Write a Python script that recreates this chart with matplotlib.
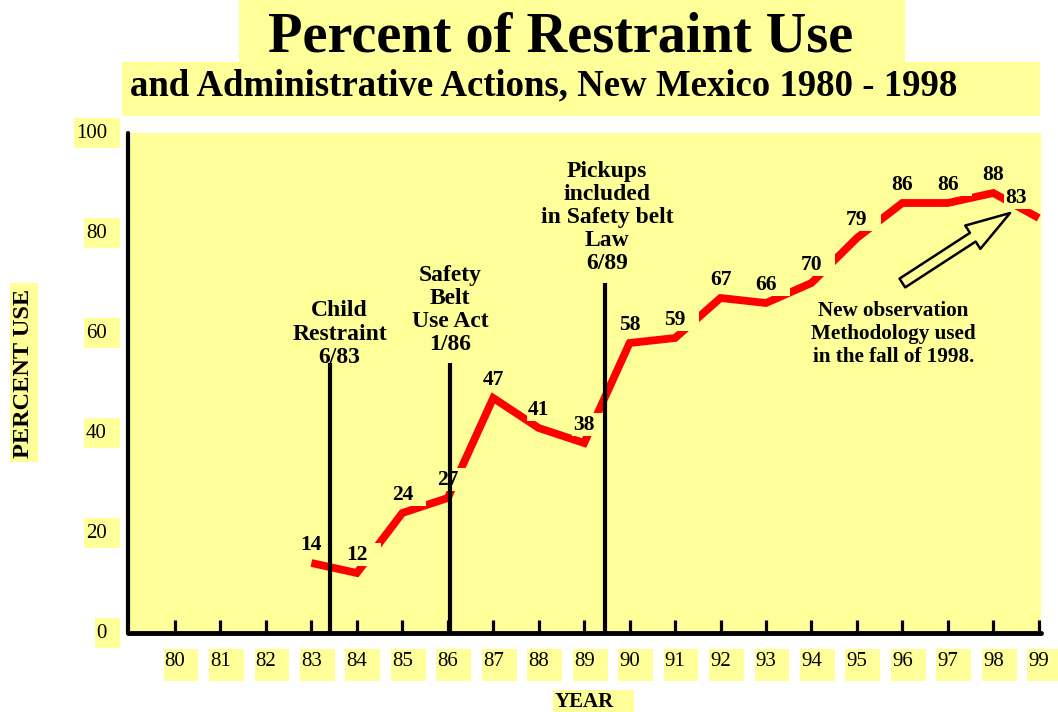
import matplotlib
matplotlib.use("Agg")
import matplotlib.pyplot as plt
from matplotlib.patches import Rectangle
from matplotlib.transforms import IdentityTransform, blended_transform_factory

# ---------------- data ----------------
years = [83, 84, 85, 86, 87, 88, 89, 90, 91, 92, 93, 94, 95, 96, 97, 98, 99]
use_pct = [14, 12, 24, 27, 47, 41, 38, 58, 59, 67, 66, 70, 79, 86, 86, 88, 83]
year_ticks = list(range(80, 100))
year_labels = [str(y) for y in year_ticks]
pct_ticks = [0, 20, 40, 60, 80, 100]
pct_labels = [str(v) for v in pct_ticks]
event_years = [83.42, 86.05, 89.45]
event_tops = [54, 54, 70]
event_texts = ["Child\nRestraint\n6/83",
               "Safety\nBelt\nUse Act\n1/86",
               "Pickups\nincluded\nin Safety belt\nLaw\n6/89"]
note_text = "New observation\nMethodology used\nin the fall of 1998."
title = "Percent of Restraint Use"
subtitle = "and Administrative Actions, New Mexico 1980 - 1998"
x_title = "YEAR"
y_title = "PERCENT USE"

# ---------------- style ----------------
YELLOW = "#FFFF99"
SERIF = ["Liberation Serif", "DejaVu Serif"]
W, H = 1058, 712
plt.rcParams["font.family"] = SERIF

fig = plt.figure(figsize=(W / 100, H / 100), dpi=100)
fig.patch.set_facecolor("white")


def px_rect(x0, y0, x1, y1):
    """rectangle in figure pixel coords (y measured from top)"""
    fig.patches.append(Rectangle((x0 / W, 1 - y1 / H), (x1 - x0) / W, (y1 - y0) / H,
                                 transform=fig.transFigure, facecolor=YELLOW,
                                 edgecolor="none", zorder=-1))


# title boxes
px_rect(239, 0, 905, 62)
px_rect(122, 62, 1040, 116)
fig.text(561 / W, 1 - 38 / H, title, ha="center", va="center",
         fontsize=40.5, fontweight="bold", zorder=2)
fig.text(544 / W, 1 - 86 / H, subtitle, ha="center", va="center",
         fontsize=26.5, fontweight="bold", zorder=2)

ax = fig.add_axes([128 / W, 1 - 633 / H, (1041 - 128) / W, (633 - 133) / H])
ax.set_facecolor(YELLOW)
ax.set_xlim(78.966, 99.05)
ax.set_ylim(0, 100)
ax.set_autoscale_on(False)
for s in ["top", "right"]:
    ax.spines[s].set_visible(False)
ax.spines["left"].set_linewidth(3.0)
ax.spines["bottom"].set_linewidth(3.5)
ax.spines["left"].set_capstyle("round")
ax.spines["bottom"].set_capstyle("round")
ax.set_xticks(year_ticks)
ax.set_yticks([])
ax.tick_params(axis="x", direction="in", length=9.5, width=2.3,
               labelbottom=False, color="black")

# red series
ax.plot(years, use_pct, color="red", lw=5.6, solid_joinstyle="miter",
        solid_capstyle="butt", zorder=2)

# value labels (yellow boxes added after measuring)
vtexts = []
for i, (x, v) in enumerate(zip(years, use_pct)):
    off = (0, 13) if i < len(years) - 1 else (-16.5, 14.5)
    vtexts.append(ax.annotate(str(v), (x, v), xytext=off, textcoords="offset points",
                              ha="center", va="center", fontsize=15.5,
                              fontweight="bold", zorder=3))

# event lines and texts
ax.vlines(event_years, 0, event_tops, color="black", lw=3, zorder=4)
ev_pos = [(83.62, 59.8), (86.05, 64.6), (89.5, 83.1)]
for (ex, ey), t in zip(ev_pos, event_texts):
    ax.text(ex, ey, t, ha="center", va="center", multialignment="center",
            fontsize=17, fontweight="bold", linespacing=1.13, zorder=3.5)

ax.text(95.8, 59.8, note_text, ha="center", va="center", multialignment="center",
        fontsize=15.2, fontweight="bold", linespacing=1.2, zorder=3)

# hollow arrow
ax.annotate("", xy=(98.37, 84), xytext=(96.0, 70),
            arrowprops=dict(arrowstyle="simple,head_length=3.2,head_width=2.0,tail_width=0.75",
                            fc=YELLOW, ec="black", lw=1.8, shrinkA=0, shrinkB=0,
                            mutation_scale=10, joinstyle="round"),
            zorder=3)

# tick labels (text, boxes added after measuring)
xlab_trans = blended_transform_factory(ax.transData, ax.transAxes)
ylab_trans = blended_transform_factory(ax.transAxes, ax.transData)
xtexts = [ax.text(t, -29 / 500, lab, transform=xlab_trans, ha="center", va="center",
                  fontsize=15, zorder=5, clip_on=False)
          for t, lab in zip(year_ticks, year_labels)]
ytexts = [ax.text(-21 / 913, v, lab, transform=ylab_trans, ha="right", va="center",
                  fontsize=15, zorder=5, clip_on=False)
          for v, lab in zip(pct_ticks, pct_labels)]

xt = fig.text(555 / W, 1 - 702 / H, x_title, ha="left", va="center",
              fontsize=15, fontweight="bold", zorder=2)
yt = fig.text(24 / W, 1 - 373 / H, y_title, ha="center", va="center", rotation=90,
              fontsize=17.5, fontweight="bold", zorder=2)

fig.canvas.draw()
r = fig.canvas.get_renderer()


def box_around(t, l, rgt, top, bot, target=None, z=-1):
    bb = t.get_window_extent(r)
    x0 = bb.x0 - l
    x1 = bb.x1 + rgt
    ymid = (bb.y0 + bb.y1) / 2
    rect = Rectangle((x0, ymid - bot), x1 - x0, top + bot,
                     transform=IdentityTransform(),
                     facecolor=YELLOW, edgecolor="none", zorder=z)
    if target is None:
        fig.patches.append(rect)
    else:
        rect.set_clip_on(False)
        target.add_artist(rect)


for t in xtexts:
    box_around(t, 1, 13, 13, 19)
for t in ytexts:
    box_around(t, 2, 13, 15, 15)
box_around(xt, 2, 20, 12, 12)
box_around(yt, 3, 3, 90, 89)
for t in vtexts:
    box_around(t, 1, 13, 12, 11, target=ax, z=2.5)

fig.savefig("out.png", dpi=100)
